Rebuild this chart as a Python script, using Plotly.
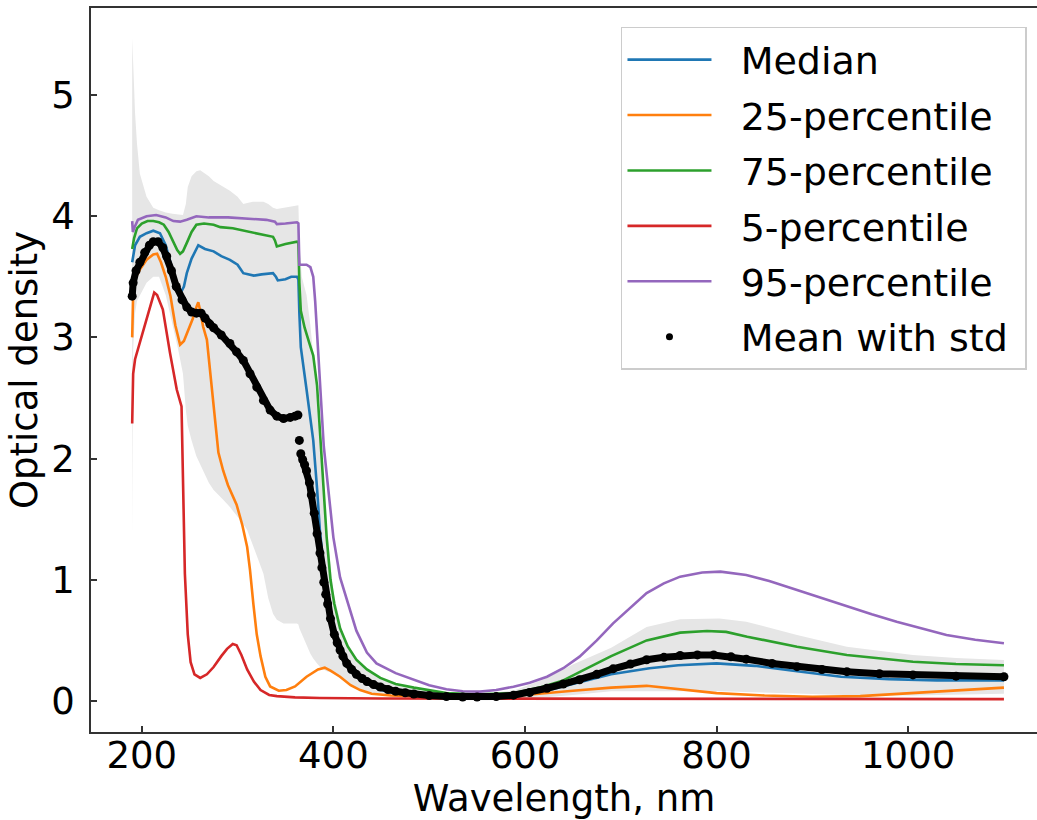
import plotly.graph_objects as go

# ---------------- data ----------------
wl_band = [190, 191, 193, 195, 198, 205, 212, 218, 225, 232,
           238, 243, 246, 248, 252, 257, 261, 265, 270, 275,
           285, 292, 300, 306, 310, 316, 320, 327, 332, 337,
           341, 348, 355, 362, 363.5, 364.5, 367, 372, 376, 379,
           383, 386, 390, 393, 400, 410, 421, 435, 450, 470,
           500, 530, 560, 590, 620, 650, 690, 727, 762, 803,
           831, 884, 936, 1005, 1050, 1100]
band_upper = [5.47, 5.25, 4.85, 4.6, 4.35, 4.16, 4.07, 4.05, 4.03, 4.02,
              4.015, 4.01, 4.1, 4.24, 4.33, 4.37, 4.38, 4.36, 4.33, 4.29,
              4.24, 4.21, 4.16, 4.10, 4.11, 4.12, 4.12, 4.12, 4.10, 4.07,
              4.06, 4.07, 4.08, 4.09, 4.09, 3.8, 3.5, 3.35, 3.1, 2.85,
              2.5, 2.16, 1.75, 1.45, 0.9, 0.55, 0.38, 0.26, 0.18, 0.12,
              0.07, 0.055, 0.06, 0.09, 0.18, 0.3, 0.44, 0.61, 0.674, 0.68,
              0.654, 0.545, 0.448, 0.38, 0.355, 0.338]
band_lower = [1.35, 2.9, 3.2, 3.3, 3.35, 3.45, 3.5, 3.5, 3.35, 3.1,
              2.9, 2.7, 2.4, 2.27, 2.15, 2.02, 1.95, 1.88, 1.8, 1.74,
              1.66, 1.60, 1.52, 1.46, 1.41, 1.28, 1.2, 1.05, 0.85, 0.72,
              0.67, 0.64, 0.64, 0.64, 0.63, 0.6, 0.56, 0.46, 0.39, 0.35,
              0.31, 0.283, 0.26, 0.245, 0.23, 0.17, 0.118, 0.08, 0.05, 0.03,
              0.012, 0.005, 0.005, 0.01, 0.03, 0.05, 0.08, 0.08, 0.08, 0.08,
              0.07, 0.06, 0.05, 0.045, 0.05, 0.06]

wl_med = [190, 193, 198, 205, 212, 219, 225, 230, 235, 240,
          244, 247, 252, 259, 266, 275, 283, 292, 300, 306,
          312, 317, 325, 337, 340, 342, 350, 356, 362, 363.5,
          364.5, 366, 372, 379, 383, 386, 390, 393, 397, 400,
          405, 410, 420, 435, 450, 470, 500, 530, 560, 590,
          620, 650, 690, 730, 760, 800, 840, 880, 930, 980,
          1030, 1100]
median = [3.62, 3.76, 3.83, 3.86, 3.88, 3.86, 3.76, 3.62, 3.47, 3.36,
          3.42, 3.53, 3.65, 3.76, 3.73, 3.71, 3.67, 3.64, 3.60, 3.53,
          3.52, 3.51, 3.52, 3.53, 3.50, 3.47, 3.48, 3.50, 3.50, 3.48,
          3.2, 2.92, 2.57, 2.15, 1.75, 1.40, 1.10, 0.90, 0.72, 0.60,
          0.48, 0.38, 0.25, 0.14, 0.09, 0.05, 0.03, 0.025, 0.03, 0.045,
          0.08, 0.14, 0.22, 0.27, 0.295, 0.31, 0.29, 0.25, 0.20, 0.18,
          0.17, 0.17]

wl_p25 = [190, 191, 194, 198, 205, 212, 216, 220, 225, 230,
          235, 240, 244, 247, 253, 257, 259, 261, 264, 268,
          271, 275, 280, 285, 290, 299, 305, 310, 313, 316.5,
          320, 324, 329, 334, 343, 351, 360, 372, 384, 391,
          397, 407, 418, 428, 440, 460, 500, 550, 600, 650,
          690, 727, 760, 800, 850, 900, 950, 1005, 1050, 1100]
p25 = [3.0, 3.36, 3.50, 3.56, 3.64, 3.685, 3.69, 3.62, 3.50, 3.34,
       3.10, 2.94, 2.97, 3.03, 3.15, 3.25, 3.29, 3.22, 3.09, 2.98,
       2.75, 2.43, 2.05, 1.9, 1.78, 1.62, 1.45, 1.27, 1.08, 0.8,
       0.55, 0.37, 0.2, 0.12, 0.085, 0.091, 0.12, 0.20, 0.26, 0.275,
       0.25, 0.20, 0.13, 0.09, 0.06, 0.045, 0.035, 0.035, 0.05, 0.085,
       0.11, 0.125, 0.10, 0.065, 0.045, 0.035, 0.04, 0.064, 0.085, 0.11]

wl_p75 = [190, 192, 195, 200, 206, 212, 218, 223, 228, 233,
          237, 240, 243, 247, 252, 257, 265, 275, 282, 295,
          306, 320, 330, 337, 339, 341, 350, 362, 363.5, 364.5,
          366, 370, 375, 379, 383, 386, 390, 393, 397, 401,
          407, 415, 424, 435, 449, 465, 484, 518, 550, 588,
          615, 640, 660, 690, 727, 762, 790, 810, 832, 884,
          936, 1005, 1050, 1100]
p75 = [3.73, 3.82, 3.90, 3.94, 3.96, 3.96, 3.95, 3.93, 3.87, 3.79,
       3.72, 3.69, 3.71, 3.78, 3.87, 3.93, 3.94, 3.93, 3.91, 3.90,
       3.88, 3.86, 3.84, 3.83, 3.80, 3.75, 3.77, 3.79, 3.78, 3.45,
       3.22, 3.08, 2.95, 2.85, 2.6, 2.2, 1.7, 1.35, 1.0, 0.8,
       0.6, 0.45, 0.34, 0.26, 0.19, 0.14, 0.11, 0.065, 0.055, 0.064,
       0.11, 0.17, 0.25, 0.37, 0.50, 0.564, 0.578, 0.57, 0.53, 0.448,
       0.38, 0.324, 0.305, 0.295]

wl_p5 = [190, 191, 193, 196.5, 200, 205, 210, 213, 216, 222,
         229.5, 236.5, 241.5, 243, 245, 248, 251, 255, 261, 268,
         275, 283, 289, 295, 299, 304, 310, 317, 324, 333,
         341, 360, 386, 450, 600, 800, 1100]
p5 = [2.29, 2.70, 2.82, 2.92, 3.0, 3.15, 3.30, 3.37, 3.35, 3.23,
      2.87, 2.57, 2.43, 1.9, 1.05, 0.55, 0.32, 0.22, 0.19, 0.22,
      0.28, 0.37, 0.43, 0.47, 0.46, 0.38, 0.26, 0.16, 0.09, 0.05,
      0.04, 0.03, 0.025, 0.02, 0.02, 0.015, 0.015]

wl_p95 = [190, 190.7, 192, 196, 205, 215, 225, 233, 240, 247,
          257, 270, 290, 316, 330, 339, 341, 350, 362, 363.5,
          364.5, 367, 372, 376, 379, 381, 384, 387, 390, 394,
          400, 407, 414, 424, 435, 445, 465, 484, 500, 518,
          535, 553, 570, 588, 605, 623, 640, 657, 675, 692,
          710, 727, 745, 762, 785, 804, 831, 855, 884, 910,
          936, 962, 988, 1015, 1040, 1070, 1100]
p95 = [3.96, 3.87, 3.90, 3.97, 4.0, 4.01, 3.99, 3.96, 3.955, 3.97,
       4.0, 3.99, 3.99, 3.98, 3.97, 3.955, 3.935, 3.94, 3.95, 3.94,
       3.6, 3.6, 3.6, 3.58, 3.5, 3.3, 2.9, 2.45, 2.1, 1.8,
       1.35, 1.02, 0.83, 0.58, 0.40, 0.31, 0.23, 0.173, 0.13, 0.096,
       0.08, 0.077, 0.09, 0.118, 0.15, 0.2, 0.27, 0.366, 0.50, 0.64,
       0.77, 0.89, 0.97, 1.026, 1.06, 1.067, 1.04, 0.99, 0.916, 0.85,
       0.778, 0.715, 0.654, 0.60, 0.545, 0.505, 0.476]

wl_mean = [190, 191, 194, 198, 203, 208, 212, 217, 222, 226,
           231, 236, 242, 247, 252, 257, 262, 266, 271, 275,
           283, 292, 299, 306, 313, 320, 327, 334, 341, 348,
           355, 360, 363, 363.7, 364.5, 365.2, 366, 368, 370, 372,
           375, 377, 380, 383, 386, 388, 390, 392, 394, 397,
           401, 404, 407, 410, 414, 419, 424, 430, 435, 442,
           449, 457, 465, 475, 484, 500, 518, 535, 550, 570,
           588, 605, 623, 640, 657, 675, 692, 710, 727, 745,
           762, 780, 797, 815, 831, 858, 884, 910, 936, 970,
           1005, 1050, 1100]
mean_od = [3.34, 3.45, 3.55, 3.62, 3.70, 3.76, 3.79, 3.79, 3.74, 3.67,
           3.55, 3.42, 3.31, 3.25, 3.21, 3.20, 3.20, 3.16, 3.11, 3.08,
           3.02, 2.95, 2.88, 2.81, 2.70, 2.59, 2.48, 2.40, 2.35, 2.33,
           2.34, 2.35, 2.36, None, 2.15, None, 2.04, 1.99, 1.95, 1.90,
           1.80, 1.70, 1.55, 1.38, 1.22, 1.10, 0.98, 0.88, 0.80, 0.68,
           0.55, 0.48, 0.42, 0.37, 0.31, 0.26, 0.22, 0.185, 0.16, 0.135,
           0.115, 0.095, 0.08, 0.068, 0.058, 0.045, 0.037, 0.033, 0.032, 0.036,
           0.048, 0.07, 0.105, 0.14, 0.175, 0.22, 0.265, 0.305, 0.34, 0.36,
           0.375, 0.38, 0.38, 0.365, 0.345, 0.31, 0.283, 0.26, 0.242, 0.225,
           0.215, 0.205, 0.2]

x_ticks = [200, 400, 600, 800, 1000]
y_ticks = [0, 1, 2, 3, 4, 5]

FONT = "DejaVu Sans"
FS = 37
LEG_FS = 38
PAD = "\u00a0\u00a0"   # gap between legend handle and label

fig = go.Figure()

# std band (mean +- std)
fig.add_trace(go.Scatter(
    x=wl_band + wl_band[::-1], y=band_upper + band_lower[::-1],
    fill="toself", fillcolor="rgb(230,230,230)", line=dict(width=0),
    mode="lines", showlegend=False, hoverinfo="skip"))

lines = [
    ("Median", wl_med, median, "#1f77b4"),
    ("25-percentile", wl_p25, p25, "#ff7f0e"),
    ("75-percentile", wl_p75, p75, "#2ca02c"),
    ("5-percentile", wl_p5, p5, "#d62728"),
    ("95-percentile", wl_p95, p95, "#9467bd"),
]
for name, xs, ys, col in lines:
    fig.add_trace(go.Scatter(x=xs, y=ys, mode="lines", name=PAD + name,
                             legendgroup=name,
                             line=dict(color=col, width=2.6)))

fig.add_trace(go.Scatter(x=wl_mean, y=mean_od, mode="lines+markers",
                         line=dict(color="black", width=7),
                         marker=dict(color="black", size=9),
                         connectgaps=False, showlegend=False))
fig.add_trace(go.Scatter(x=[None], y=[None], mode="markers",
                         name=PAD + "Mean with std\u00a0", legendgroup="mean",
                         marker=dict(color="black", size=7)))

axis_common = dict(
    showgrid=False, zeroline=False, showline=True, linecolor="#333333",
    linewidth=1.6, ticks="inside", ticklen=6, tickwidth=1.5,
    tickcolor="#333333", tickfont=dict(family=FONT, size=FS, color="black"),
)

fig.update_layout(
    width=1037, height=820,
    margin=dict(l=91, r=0, t=8, b=88, autoexpand=False),
    paper_bgcolor="white", plot_bgcolor="white",
    font=dict(family=FONT, size=FS, color="black"),
    xaxis=dict(range=[147, 1134.5], tickvals=x_ticks, mirror=True,
               title=dict(text="Wavelength, nm", font=dict(family=FONT, size=FS), standoff=24),
               ticklabelstandoff=-10, **axis_common),
    yaxis=dict(range=[-0.256, 5.718], tickvals=y_ticks,
               title=dict(text="Optical density", font=dict(family=FONT, size=FS), standoff=2),
               ticklabelstandoff=7, **axis_common),
    legend=dict(x=0.9894, y=0.9738, xanchor="right", yanchor="top",
                bgcolor="white", bordercolor="#cccccc", borderwidth=1.5,
                font=dict(family=FONT, size=LEG_FS), tracegroupgap=3,
                itemwidth=84, traceorder="grouped"),
    showlegend=True,
)

fig.write_html("out.html", config={"displayModeBar": False})
